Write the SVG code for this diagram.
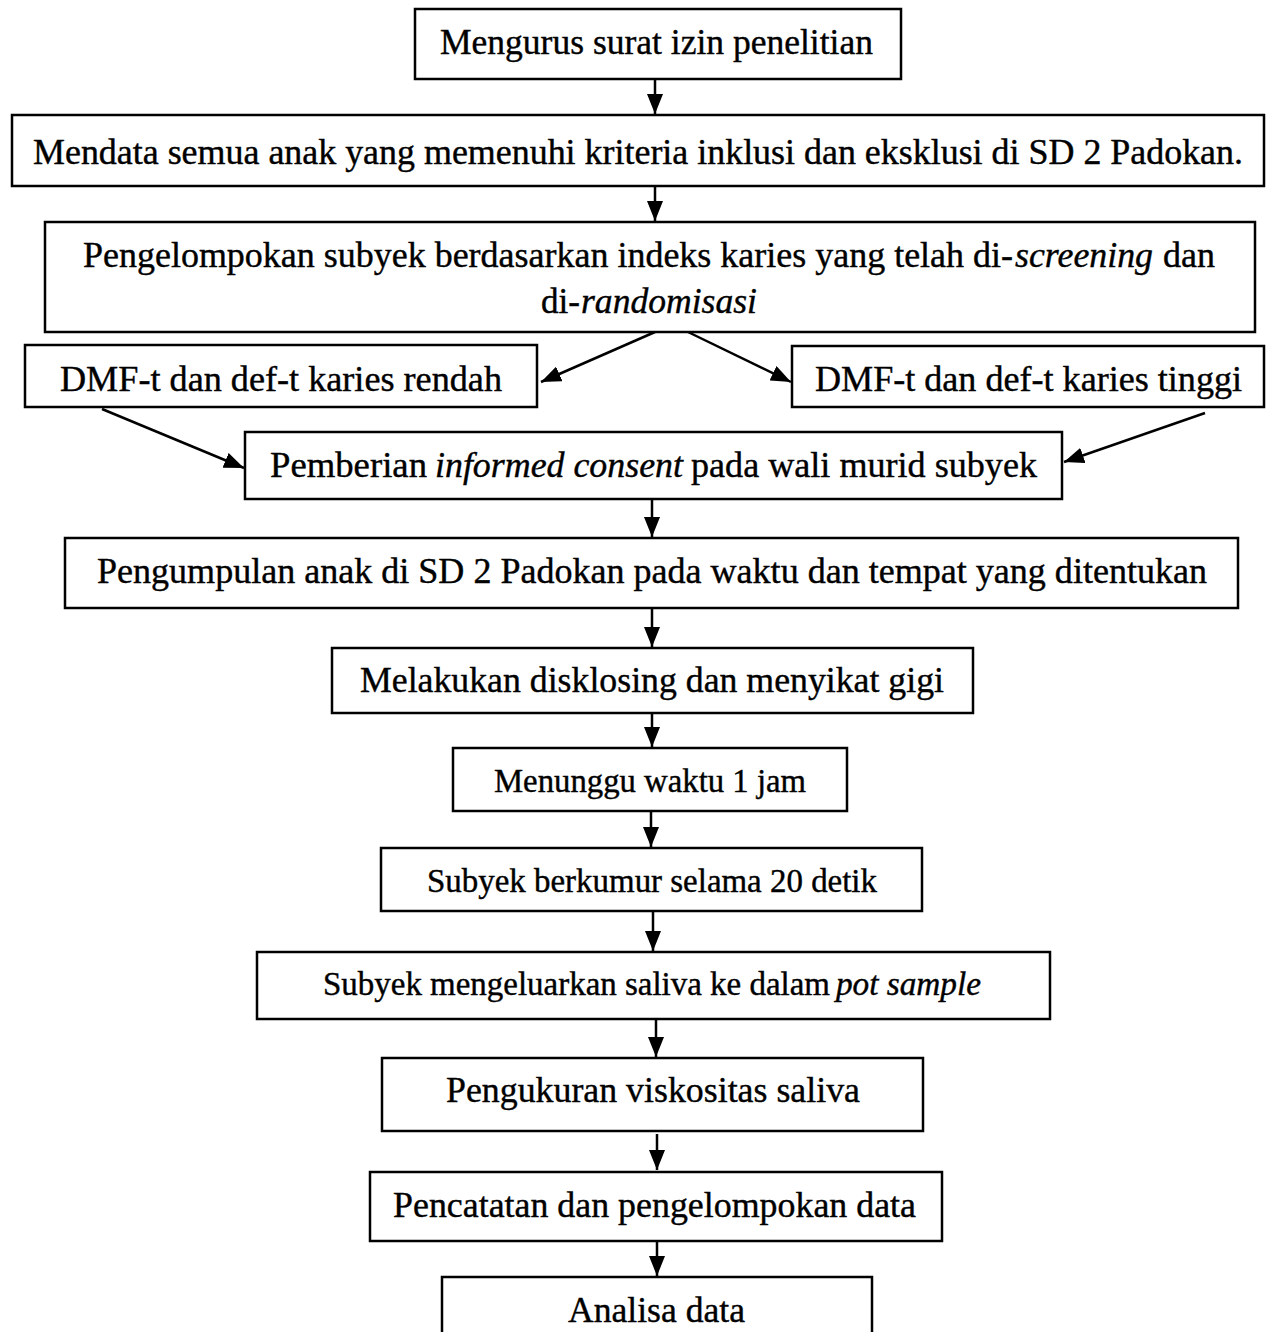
<svg xmlns="http://www.w3.org/2000/svg" width="1268" height="1332" viewBox="0 0 1268 1332">
<style>
.box{fill:#fff;stroke:#000;stroke-width:2.5}
.t{font-family:"Liberation Serif","Times New Roman",serif;font-size:36px;fill:#000;stroke:#000;stroke-width:0.4}
.s{font-size:33px}
.i{font-style:italic}
.c{stroke:#000;stroke-width:2.5;fill:none}
</style>
<defs>
<marker id="ah" markerUnits="userSpaceOnUse" markerWidth="22" markerHeight="16" refX="20" refY="8" orient="auto">
<path d="M0,0 L20,8 L0,16 z" fill="#000"/>
</marker>
</defs>
<rect width="1268" height="1332" fill="#fff"/>
<g id="connectors">
<line class="c" x1="655" y1="79" x2="655" y2="114" marker-end="url(#ah)"/>
<line class="c" x1="655" y1="186" x2="655" y2="221" marker-end="url(#ah)"/>
<line class="c" x1="655" y1="332" x2="541" y2="382" marker-end="url(#ah)"/>
<line class="c" x1="688" y1="332" x2="791" y2="382" marker-end="url(#ah)"/>
<line class="c" x1="102" y1="409" x2="244" y2="468" marker-end="url(#ah)"/>
<line class="c" x1="1205" y1="413" x2="1064" y2="462" marker-end="url(#ah)"/>
<line class="c" x1="652" y1="499" x2="652" y2="537" marker-end="url(#ah)"/>
<line class="c" x1="652" y1="608" x2="652" y2="647" marker-end="url(#ah)"/>
<line class="c" x1="652" y1="713" x2="652" y2="747" marker-end="url(#ah)"/>
<line class="c" x1="651" y1="811" x2="651" y2="847" marker-end="url(#ah)"/>
<line class="c" x1="653" y1="911" x2="653" y2="951" marker-end="url(#ah)"/>
<line class="c" x1="656" y1="1019" x2="656" y2="1057" marker-end="url(#ah)"/>
<line class="c" x1="657" y1="1134" x2="657" y2="1170" marker-end="url(#ah)"/>
<line class="c" x1="657" y1="1241" x2="657" y2="1276" marker-end="url(#ah)"/>
</g>
<g id="n1"><rect class="box" x="415" y="9" width="486" height="70"/>
<text class="t" x="440" y="54" textLength="433" lengthAdjust="spacingAndGlyphs">Mengurus surat izin penelitian</text></g>
<g id="n2"><rect class="box" x="12" y="115" width="1252" height="71"/>
<text class="t" x="33" y="164" style="font-size:35px" textLength="1210" lengthAdjust="spacingAndGlyphs">Mendata semua anak yang memenuhi kriteria inklusi dan eksklusi di SD 2 Padokan.</text></g>
<g id="n3"><rect class="box" x="45" y="222" width="1210" height="110"/>
<text class="t" x="83" y="267" textLength="930" lengthAdjust="spacingAndGlyphs">Pengelompokan subyek berdasarkan indeks karies yang telah di-</text>
<text class="t i" x="1015" y="267" textLength="138" lengthAdjust="spacingAndGlyphs">screening</text>
<text class="t" x="1163" y="267" textLength="52" lengthAdjust="spacingAndGlyphs">dan</text>
<text class="t" x="541" y="313" textLength="39" lengthAdjust="spacingAndGlyphs">di-</text>
<text class="t i" x="581" y="313" textLength="176" lengthAdjust="spacingAndGlyphs">randomisasi</text></g>
<g id="n4"><rect class="box" x="25" y="345" width="512" height="62"/>
<text class="t" x="60" y="391" textLength="442" lengthAdjust="spacingAndGlyphs">DMF-t dan def-t karies rendah</text></g>
<g id="n5"><rect class="box" x="792" y="346" width="472" height="61"/>
<text class="t" x="815" y="391" textLength="427" lengthAdjust="spacingAndGlyphs">DMF-t dan def-t karies tinggi</text></g>
<g id="n6"><rect class="box" x="245" y="432" width="817" height="67"/>
<text class="t" x="270" y="477" textLength="157" lengthAdjust="spacingAndGlyphs">Pemberian</text>
<text class="t i" x="435" y="477" textLength="248" lengthAdjust="spacingAndGlyphs">informed consent</text>
<text class="t" x="691" y="477" textLength="346" lengthAdjust="spacingAndGlyphs">pada wali murid subyek</text></g>
<g id="n7"><rect class="box" x="65" y="538" width="1173" height="70"/>
<text class="t" x="97" y="583" textLength="1110" lengthAdjust="spacingAndGlyphs">Pengumpulan anak di SD 2 Padokan pada waktu dan tempat yang ditentukan</text></g>
<g id="n8"><rect class="box" x="332" y="648" width="641" height="65"/>
<text class="t" x="360" y="692" textLength="584" lengthAdjust="spacingAndGlyphs">Melakukan disklosing dan menyikat gigi</text></g>
<g id="n9"><rect class="box" x="453" y="748" width="394" height="63"/>
<text class="t s" x="494" y="792" textLength="312" lengthAdjust="spacingAndGlyphs">Menunggu waktu 1 jam</text></g>
<g id="n10"><rect class="box" x="381" y="848" width="541" height="63"/>
<text class="t s" x="427" y="892" textLength="450" lengthAdjust="spacingAndGlyphs">Subyek berkumur selama 20 detik</text></g>
<g id="n11"><rect class="box" x="257" y="952" width="793" height="67"/>
<text class="t s" x="323" y="995" textLength="507" lengthAdjust="spacingAndGlyphs">Subyek mengeluarkan saliva ke dalam</text>
<text class="t s i" x="836" y="995" textLength="145" lengthAdjust="spacingAndGlyphs">pot sample</text></g>
<g id="n12"><rect class="box" x="382" y="1058" width="541" height="73"/>
<text class="t" x="446" y="1102" textLength="414" lengthAdjust="spacingAndGlyphs">Pengukuran viskositas saliva</text></g>
<g id="n13"><rect class="box" x="370" y="1172" width="572" height="69"/>
<text class="t" x="393" y="1217" textLength="523" lengthAdjust="spacingAndGlyphs">Pencatatan dan pengelompokan data</text></g>
<g id="n14"><rect class="box" x="442" y="1277" width="430" height="80"/>
<text class="t" x="568" y="1322" textLength="177" lengthAdjust="spacingAndGlyphs">Analisa data</text></g>
</svg>
